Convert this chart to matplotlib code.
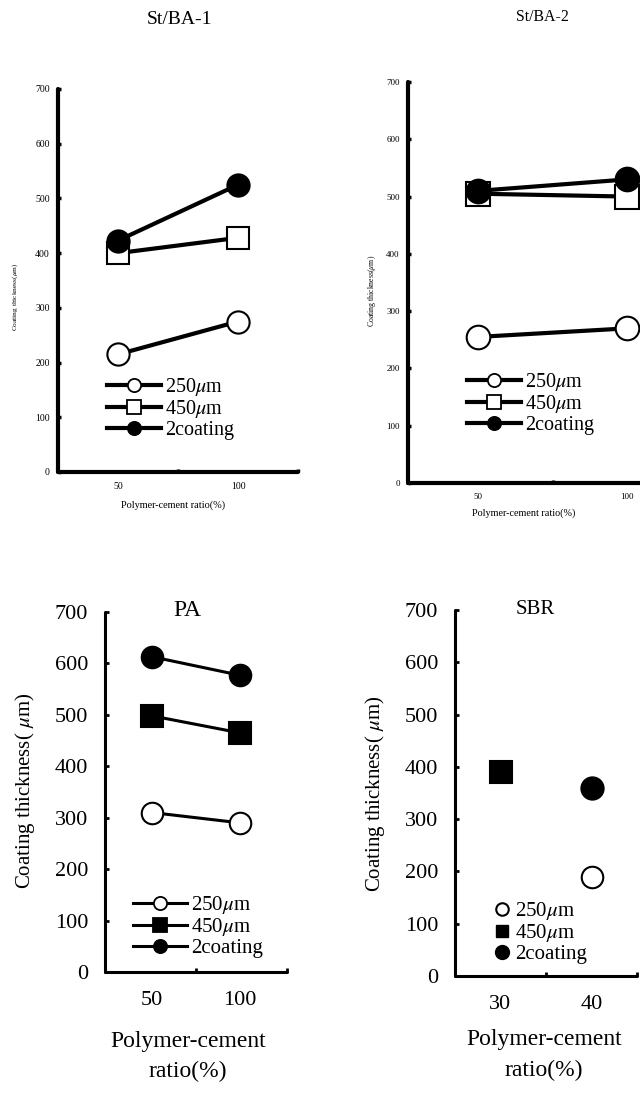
import matplotlib
matplotlib.use("Agg")
import matplotlib.pyplot as plt
from matplotlib.lines import Line2D

plt.rcParams['font.family'] = ['Liberation Serif', 'DejaVu Serif']
plt.rcParams['mathtext.fontset'] = 'stix'

# data
ratio_st = [50, 100]
st1_250 = [215, 275]
st1_450 = [400, 428]
st1_2coat = [423, 525]

st2_250 = [255, 270]
st2_450 = [505, 500]
st2_2coat = [510, 530]

pa_250 = [310, 290]
pa_450 = [498, 465]
pa_2coat = [613, 577]

sbr_x_250 = [40]
sbr_250 = [190]
sbr_x_450 = [30]
sbr_450 = [390]
sbr_x_2coat = [40]
sbr_2coat = [360]

series_labels = ['250$\\mu$m', '450$\\mu$m', '2coating']
yticks = [0, 100, 200, 300, 400, 500, 600, 700]

W, H = 640, 1097
fig = plt.figure(figsize=(W / 100, H / 100), dpi=100)


def px_axes(x0, x1, ytop, ybot):
    return fig.add_axes([x0 / W, 1 - ybot / H, (x1 - x0) / W, (ybot - ytop) / H])


def style(ax, xlim, tickpos, labelpos, labels, spw, fs, ypad, xpad, tlen, tw):
    ax.set_xlim(*xlim)
    ax.set_ylim(0, 700)
    for s in ['top', 'right']:
        ax.spines[s].set_visible(False)
    for s in ['left', 'bottom']:
        ax.spines[s].set_linewidth(spw)
        ax.spines[s].set_capstyle('round')
    ax.set_yticks(yticks)
    ax.set_yticklabels([str(v) for v in yticks], fontsize=fs)
    ax.set_xticks(tickpos)
    ax.set_xticklabels([''] * len(tickpos))
    ax.set_xticks(labelpos, minor=True)
    ax.set_xticklabels(labels, minor=True, fontsize=fs)
    ax.tick_params(axis='y', direction='in', length=tlen, width=tw, pad=ypad)
    ax.tick_params(axis='x', which='major', direction='in', length=tlen, width=tw)
    ax.tick_params(axis='x', which='minor', length=0, pad=xpad)
    ax.patch.set_alpha(0)


def draw_lines(ax, x, ys, lw, ms, mew, fills):
    kinds = [('o', fills[0]), ('s', fills[1]), ('o', fills[2])]
    for (m, fc), y in zip(kinds, ys):
        ax.plot(x, y, color='black', lw=lw, marker=m, ms=ms, mfc=fc,
                mec='black', mew=mew, clip_on=False, zorder=3)


def line_legend(ax, x, y, lw, ms, mew, fs, hl, fills):
    kinds = [('o', fills[0]), ('s', fills[1]), ('o', fills[2])]
    handles = [Line2D([], [], color='black', lw=lw, marker=m, ms=ms, mfc=fc,
                      mec='black', mew=mew) for m, fc in kinds]
    ax.legend(handles, series_labels, loc='upper left', frameon=False,
              bbox_to_anchor=(x / W, 1 - y / H), bbox_transform=fig.transFigure,
              fontsize=fs, handlelength=hl, handletextpad=0.2, labelspacing=0.02,
              borderpad=0, borderaxespad=0)


open_sq = ['white', 'white', 'black']
full_sq = ['white', 'black', 'black']

# ---- St/BA-1
ax1 = px_axes(58, 298, 89, 472)
style(ax1, (25, 125), [75, 125], [50, 100], ['50', '100'], 3, 7, 6, 7, 2.5, 2.5)
draw_lines(ax1, ratio_st, [st1_250, st1_450, st1_2coat], 3, 16, 1.5, open_sq)
line_legend(ax1, 107, 376, 3, 9.5, 1.3, 14.5, 2.7, open_sq)
fig.text(180 / W, 1 - 20 / H, 'St/BA-1', ha='center', va='center', fontsize=14)
fig.text(15 / W, 1 - 297 / H, 'Coating thickness($\\mu$m)', rotation=90,
         ha='center', va='center', fontsize=5.3)
fig.text(173 / W, 1 - 505 / H, 'Polymer-cement ratio(%)', ha='center',
         va='center', fontsize=7.4)

# ---- St/BA-2
ax2 = px_axes(408, 702, 82, 483)
style(ax2, (26.5, 125), [75, 125], [50, 100], ['50', '100'], 3, 6.5, 6, 7, 2.5, 2.5)
draw_lines(ax2, ratio_st, [st2_250, st2_450, st2_2coat], 3, 17, 1.5, open_sq)
line_legend(ax2, 467, 371, 3, 9.5, 1.3, 14.5, 2.7, open_sq)
fig.text(542 / W, 1 - 17 / H, 'St/BA-2', ha='center', va='center', fontsize=11.4)
fig.text(372 / W, 1 - 291 / H, 'Coating thickness($\\mu$m)', rotation=90,
         ha='center', va='center', fontsize=5.6)
fig.text(524 / W, 1 - 513 / H, 'Polymer-cement ratio(%)', ha='center',
         va='center', fontsize=7.3)

# ---- PA
ax3 = px_axes(105, 287, 612, 972)
style(ax3, (23.3, 126.7), [75, 126.7], [50, 100], ['50', '100'], 2.2, 16, 12, 14, 3, 2)
draw_lines(ax3, ratio_st, [pa_250, pa_450, pa_2coat], 2.2, 15.5, 1.5, full_sq)
line_legend(ax3, 133, 894, 2.2, 9.5, 1.3, 15, 2.6, full_sq)
fig.text(187 / W, 1 - 610 / H, 'PA', ha='center', va='center', fontsize=17)
fig.text(25 / W, 1 - 791 / H, 'Coating thickness( $\\mu$m)', rotation=90,
         ha='center', va='center', fontsize=15)
fig.text(188 / W, 1 - 1042 / H, 'Polymer-cement', ha='center', va='center', fontsize=17)
fig.text(188 / W, 1 - 1071 / H, 'ratio(%)', ha='center', va='center', fontsize=17)

# ---- SBR
ax4 = px_axes(455, 637, 610, 976)
style(ax4, (25, 45), [35, 45], [30, 40], ['30', '40'], 2.2, 16, 12, 14, 3, 2)
ax4.plot(sbr_x_250, sbr_250, ls='none', marker='o', ms=15.5, mfc='white',
         mec='black', mew=1.5, clip_on=False)
ax4.plot(sbr_x_450, sbr_450, ls='none', marker='s', ms=15.5, mfc='black',
         mec='black', mew=1.5, clip_on=False)
ax4.plot(sbr_x_2coat, sbr_2coat, ls='none', marker='o', ms=16, mfc='black',
         mec='black', mew=1.5, clip_on=False)
h4 = [Line2D([], [], ls='none', marker='o', ms=9, mfc='white', mec='black', mew=1.5),
      Line2D([], [], ls='none', marker='s', ms=9, mfc='black', mec='black'),
      Line2D([], [], ls='none', marker='o', ms=10, mfc='black', mec='black')]
ax4.legend(h4, series_labels, loc='upper left', frameon=False,
           bbox_to_anchor=(496 / W, 1 - 900 / H), bbox_transform=fig.transFigure,
           fontsize=15, handlelength=0.6, handletextpad=0.3, labelspacing=0.02,
           borderpad=0, borderaxespad=0)
fig.text(535 / W, 1 - 610 / H, 'SBR', ha='center', va='center', fontsize=15)
fig.text(375 / W, 1 - 794 / H, 'Coating thickness( $\\mu$m)', rotation=90,
         ha='center', va='center', fontsize=15)
fig.text(544 / W, 1 - 1040 / H, 'Polymer-cement', ha='center', va='center', fontsize=17)
fig.text(544 / W, 1 - 1070 / H, 'ratio(%)', ha='center', va='center', fontsize=17)

fig.savefig('out.png', dpi=100)
